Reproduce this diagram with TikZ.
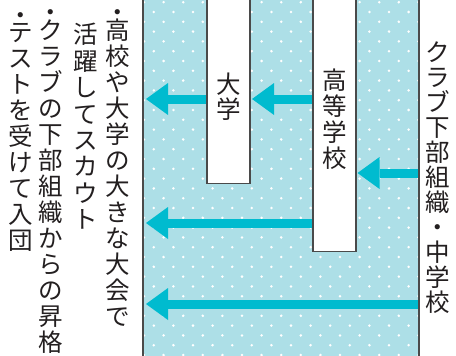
\documentclass[tikz,border=0pt]{standalone}
\usepackage{fontspec}
\newfontfamily\jp{Noto Sans CJK JP}
\usetikzlibrary{arrows.meta}
\definecolor{bgblue}{HTML}{ADDFE7}
\definecolor{arrcyan}{HTML}{00BBCF}
\definecolor{edge}{HTML}{4A4A4A}
\definecolor{ink}{HTML}{231F20}
\begin{document}
\begin{tikzpicture}[x=1pt,y=-1pt,
  vtext/.style={font=\jp\fontsize{24.5}{26}\selectfont, text=ink, align=center, inner sep=0pt},
  colbox/.style={draw=edge, line width=1.1pt, fill=white, minimum width=43pt, inner sep=0pt},
  arr/.style={arrcyan, line width=9pt, -{Triangle[length=22pt,width=32pt,line width=0pt]}},
  ]
\useasboundingbox (0,0) rectangle (456,356);
\fill[white] (0,0) rectangle (456,356);
\fill[bgblue] (143,0) rectangle (419,356);
\begin{scope}
\clip (143,0) rectangle (419,356);
\foreach \k in {0,...,18} \foreach \j in {0,...,14} {
  \fill[white] ({144+19.6*\j},{2.2+19.6*\k}) circle (1.4);
  \fill[white] ({153.8+19.6*\j},{12+19.6*\k}) circle (1.4);
}
\end{scope}
% column boxes
\node[colbox, minimum height=200pt, anchor=south] (univ) at (228.5,184) {};
\node[colbox, minimum height=270pt, anchor=south] (hs) at (334.5,252) {};
% arrow end points
\coordinate (L1) at (146,99);
\coordinate (L4) at (146,223);
\coordinate (L5) at (146,304);
\coordinate (R3) at (419,173);
\coordinate (R5) at (419,304);
\draw[arr, shorten <=0.55pt] (univ.west |- L1) -- (L1);
\draw[arr, shorten <=0.55pt, shorten >=1.5pt] (hs.west |- L1) -- (univ.east |- L1);
\draw[arr, shorten >=1pt] (R3) -- (hs.east |- R3);
\draw[arr, shorten <=0.55pt] (hs.west |- L4) -- (L4);
\draw[arr] (R5) -- (L5);
% borders
\draw[edge, line width=1.1pt] (143,0) -- (143,356) (419,0) -- (419,356);
% texts
\node[vtext, font=\jp\fontsize{24.5}{25}\selectfont] (univt) at (228.5,97) {大\\学};
\node[vtext] (hst) at (334.5,119) {高\\等\\学\\校};
\node[vtext, font=\jp\fontsize{24.5}{25}\selectfont] (club) at (438,177.5) {ク\\ラ\\ブ\\下\\部\\組\\織\\・\\中\\学\\校};
\node[vtext] (col1) at (118,168) {・\\[-8.5pt]高\\校\\や\\大\\学\\の\\大\\き\\な\\大\\会\\で};
\node[vtext, font=\jp\fontsize{24.5}{26.4}\selectfont] (col2) at (86,126.5) {活\\躍\\し\\て\\ス\\カ\\ウ\\ト};
\node[vtext] (col3) at (51,181.5) {・\\[-8.5pt]ク\\ラ\\ブ\\の\\下\\部\\組\\織\\か\\ら\\の\\昇\\格};
\node[vtext] (col4) at (21,132) {・\\[-8.5pt]テ\\ス\\ト\\を\\受\\け\\て\\入\\団};
\end{tikzpicture}
\end{document}
